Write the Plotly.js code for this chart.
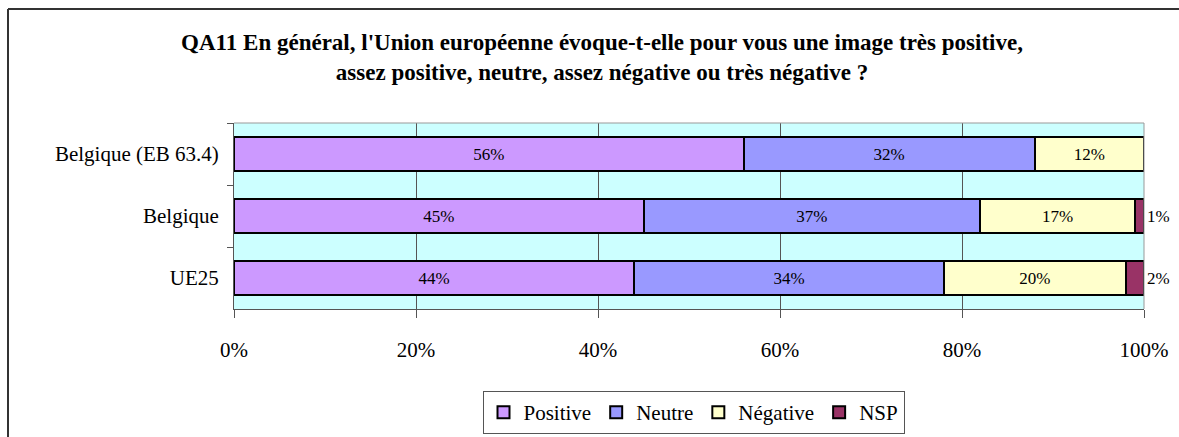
<!DOCTYPE html>
<html>
<head>
<meta charset="utf-8">
<script src="https://cdn.plot.ly/plotly-3.0.1.min.js"></script>
<style>
  html, body { margin: 0; padding: 0; background: #fff; }
  #chart { width: 1179px; height: 437px; }
</style>
</head>
<body>
<div id="chart"></div>
<script>
const categories = ['Belgique (EB 63.4)', 'Belgique', 'UE25'];
const seriesNames = ['Positive', 'Neutre', 'Négative', 'NSP'];
const positive = [56, 45, 44];
const neutre = [32, 37, 34];
const negative = [12, 17, 20];
const nsp = [0, 1, 2];
const xTickValues = [0, 20, 40, 60, 80, 100];
const xTickLabels = ['0%', '20%', '40%', '60%', '80%', '100%'];
const titleText = "QA11 En général, l'Union européenne évoque-t-elle pour vous une image très positive,<br>assez positive, neutre, assez négative ou très négative ?";

const colors = ['#CC99FF', '#9999FF', '#FFFFCC', '#993366'];
const serif = '"Liberation Serif", "Times New Roman", serif';
const seriesValues = [positive, neutre, negative, nsp];

const traces = seriesValues.map((vals, i) => {
  const isLast = i === seriesValues.length - 1;
  return {
    type: 'bar',
    orientation: 'h',
    name: seriesNames[i],
    y: categories,
    x: vals,
    text: vals.map(v => v > 0 ? v + '%' : ''),
    textposition: isLast ? 'outside' : 'inside',
    insidetextanchor: 'middle',
    constraintext: 'none',
    cliponaxis: false,
    textfont: { family: serif, size: 17, color: '#000' },
    marker: { color: colors[i], line: { color: '#000', width: 2 } },
    hoverinfo: 'x+y+name'
  };
});

const L = 234, R = 1144, T = 123, B = 309, W = 1179, H = 437;
const px2x = p => (p - L) / (R - L);
const py2y = p => (B - p) / (B - T);

const layout = {
  width: W, height: H,
  margin: { l: L, r: W - R, t: T, b: H - B, pad: 0, autoexpand: false },
  paper_bgcolor: '#fff',
  plot_bgcolor: '#CCFFFF',
  barmode: 'stack',
  bargap: 0.45,
  showlegend: true,
  font: { family: serif, color: '#000' },
  title: {
    text: titleText,
    font: { family: serif, size: 23, color: '#000', weight: 'bold' },
    xref: 'container', x: 602 / W, xanchor: 'center',
    yref: 'container', y: 1 - 50 / H, yanchor: 'middle'
  },
  xaxis: {
    range: [0, 100],
    tickvals: xTickValues,
    ticktext: xTickLabels,
    ticks: 'outside', ticklen: 8, tickcolor: '#555', tickwidth: 1,
    ticklabelstandoff: 14,
    showgrid: true, gridcolor: '#555', gridwidth: 1,
    showline: true, linecolor: '#555', linewidth: 1,
    zeroline: false,
    tickfont: { family: serif, size: 21, color: '#000' },
    fixedrange: true
  },
  yaxis: {
    type: 'category',
    categoryorder: 'array',
    categoryarray: categories,
    autorange: 'reversed',
    tickson: 'boundaries',
    ticks: 'outside', ticklen: 6, tickcolor: '#555', tickwidth: 1,
    ticklabelstandoff: 10,
    showgrid: false,
    showline: true, linecolor: '#555', linewidth: 1,
    zeroline: false,
    tickfont: { family: serif, size: 21, color: '#000' },
    fixedrange: true
  },
  legend: {
    orientation: 'h',
    traceorder: 'normal',
    xref: 'paper', x: px2x(693.5), xanchor: 'center',
    yref: 'container', y: (H - 434) / H, yanchor: 'bottom',
    bordercolor: '#555', borderwidth: 1,
    bgcolor: '#fff',
    font: { family: serif, size: 21, color: '#000' },
    itemwidth: 30,
    tracegroupgap: 0
  },
  shapes: [
    { type: 'line', xref: 'paper', yref: 'paper', layer: 'above',
      x0: 0, x1: 1, y0: 1, y1: 1, line: { color: '#999', width: 1 } },
    { type: 'line', xref: 'paper', yref: 'paper', layer: 'above',
      x0: 1, x1: 1, y0: 0, y1: 1, line: { color: '#999', width: 1 } },
    { type: 'line', xref: 'paper', yref: 'paper', layer: 'above',
      x0: px2x(8), x1: px2x(1190), y0: py2y(9), y1: py2y(9), line: { color: '#333', width: 2 } },
    { type: 'line', xref: 'paper', yref: 'paper', layer: 'above',
      x0: px2x(8), x1: px2x(8), y0: py2y(9), y1: py2y(450), line: { color: '#333', width: 2 } }
  ]
};

Plotly.newPlot('chart', traces, layout, { displayModeBar: false, staticPlot: true });
</script>
</body>
</html>
